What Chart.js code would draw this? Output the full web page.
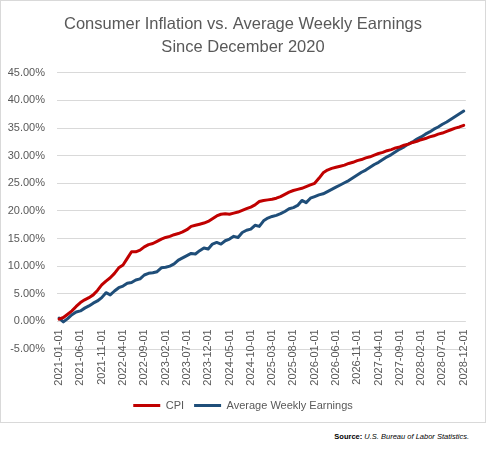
<!DOCTYPE html>
<html>
<head>
<meta charset="utf-8">
<script src="https://cdn.jsdelivr.net/npm/chart.js@4"></script>
<style>
  body { margin: 0; background: #fff; }
  #box {
    position: absolute; left: 0; top: 0;
    width: 486px; height: 423px;
    box-sizing: border-box;
    border: 1px solid #d9d9d9;
  }
  #box canvas { display: block; }
  #source {
    position: absolute; top: 432px; right: 19px;
    font-family: 'Liberation Sans', Arial, sans-serif;
    font-size: 7.5px; color: #000;
  }
  #source b { font-weight: bold; }
  #source i { font-style: italic; }
</style>
</head>
<body>
<div id="box"><canvas id="chart" width="484" height="421"></canvas></div>
<div id="source"><b>Source:</b> <i>U.S. Bureau of Labor Statistics.</i></div>
<script>
// monthly dates, Jan 2021 .. Dec 2028
const months = [];
for (let y = 2021; y <= 2028; y++) {
    for (let m = 1; m <= 12; m++) {
        months.push(y + '-' + String(m).padStart(2, '0') + '-01');
    }
}

// cumulative % change since Dec 2020
const cpi = [
    0.4, 0.7, 1.3, 1.9, 2.7, 3.4, 3.9, 4.3, 4.8, 5.6, 6.6, 7.3,
    7.9, 8.7, 9.7, 10.2, 11.4, 12.6, 12.6, 12.9, 13.5, 13.9, 14.1, 14.5,
    14.9, 15.2, 15.4, 15.7, 15.9, 16.2, 16.6, 17.2, 17.4, 17.6, 17.8, 18.1,
    18.6, 19.1, 19.4, 19.5, 19.4, 19.6, 19.8, 20.1, 20.4, 20.7, 21.1, 21.7,
    21.9, 22.0, 22.1, 22.3, 22.6, 23.0, 23.4, 23.7, 23.9, 24.1, 24.4, 24.7,
    25.0, 25.9, 26.9, 27.4, 27.7, 27.9, 28.1, 28.3, 28.6, 28.8, 29.1, 29.3,
    29.6, 29.8, 30.1, 30.4, 30.6, 30.9, 31.1, 31.4, 31.6, 31.9, 32.1, 32.4,
    32.6, 32.9, 33.1, 33.4, 33.6, 33.9, 34.1, 34.4, 34.7, 35.0, 35.2, 35.5
];
const earnings = [
    0.6, -0.1, 0.5, 1.2, 1.7, 1.9, 2.4, 2.8, 3.3, 3.7, 4.3, 5.2,
    4.8, 5.5, 6.1, 6.4, 6.9, 7.05, 7.5, 7.7, 8.4, 8.7, 8.8, 9.0,
    9.7, 9.8, 10.0, 10.4, 11.1, 11.5, 11.9, 12.3, 12.2, 12.8, 13.3, 13.1,
    14.0, 14.3, 14.0, 14.6, 14.9, 15.4, 15.2, 16.1, 16.5, 16.7, 17.4, 17.2,
    18.2, 18.7, 19.0, 19.2, 19.5, 19.9, 20.4, 20.6, 21.0, 21.9, 21.5, 22.3,
    22.6, 22.9, 23.1, 23.5, 23.9, 24.3, 24.7, 25.1, 25.5, 26.0, 26.5, 27.0,
    27.4, 27.9, 28.4, 28.8, 29.3, 29.8, 30.2, 30.7, 31.2, 31.6, 32.1, 32.5,
    33.0, 33.4, 33.9, 34.3, 34.8, 35.2, 35.7, 36.1, 36.6, 37.1, 37.6, 38.1
];

const seriesNames = ['CPI', 'Average Weekly Earnings'];
const seriesColors = ['#c00000', '#1f4e79'];
const titleLines = ['Consumer Inflation vs. Average Weekly Earnings', 'Since December 2020'];

Chart.defaults.font.family = "'Liberation Sans', Arial, sans-serif";
Chart.defaults.color = '#595959';

new Chart(document.getElementById('chart'), {
    type: 'line',
    data: {
        labels: months,
        datasets: [{
            label: seriesNames[0],
            data: cpi,
            borderColor: seriesColors[0],
            backgroundColor: seriesColors[0],
        }, {
            label: seriesNames[1],
            data: earnings,
            borderColor: seriesColors[1],
            backgroundColor: seriesColors[1],
        }]
    },
    options: {
        responsive: false,
        animation: false,
        layout: { padding: { left: 0, right: 0, top: 0, bottom: 1 } },
        elements: {
            line: { borderWidth: 3, tension: 0, borderJoinStyle: 'round', borderCapStyle: 'round' },
            point: { radius: 0 }
        },
        scales: {
            x: {
                // labels sit just under the 0% line, like Excel
                position: { y: 0 },
                offset: true,
                grid: { display: false, drawTicks: false },
                border: { display: false },
                ticks: {
                    autoSkip: false,
                    maxRotation: 90,
                    minRotation: 90,
                    padding: 8,
                    font: { size: 11 },
                    callback: function (value, index) {
                        return index % 5 === 0 ? this.getLabelForValue(value) : null;
                    }
                }
            },
            y: {
                min: -5,
                max: 45,
                afterFit: scale => { scale.width = 56; },
                grid: { color: '#d9d9d9', drawTicks: false },
                border: { display: false },
                ticks: {
                    stepSize: 5,
                    padding: 12,
                    font: { size: 11 },
                    callback: v => v.toFixed(2) + '%'
                }
            },
            // empty right gutter so title and legend stay centred
            gutter: {
                position: 'right',
                grid: { display: false },
                border: { display: false },
                ticks: { display: false },
                afterFit: scale => { scale.width = 13; }
            }
        },
        plugins: {
            title: {
                display: true,
                text: titleLines,
                color: '#595959',
                font: { size: 16.5, weight: 'normal', lineHeight: 1.45 },
                padding: { top: 11, bottom: 13 }
            },
            legend: {
                position: 'bottom',
                // empty title only used as spacing above the legend row
                title: {
                    display: true,
                    text: '',
                    font: { size: 10, lineHeight: 1 },
                    padding: { top: 0, bottom: 31 }
                },
                labels: {
                    usePointStyle: true,
                    pointStyleWidth: 27,
                    padding: 10,
                    font: { size: 11 },
                    color: '#595959',
                    generateLabels: chart => chart.data.datasets.map((ds, i) => ({
                        text: ds.label,
                        datasetIndex: i,
                        fillStyle: ds.borderColor,
                        strokeStyle: ds.borderColor,
                        lineWidth: 3,
                        pointStyle: 'line',
                        fontColor: '#595959',
                        hidden: false
                    }))
                }
            },
            tooltip: { enabled: false }
        }
    }
});
</script>
</body>
</html>
